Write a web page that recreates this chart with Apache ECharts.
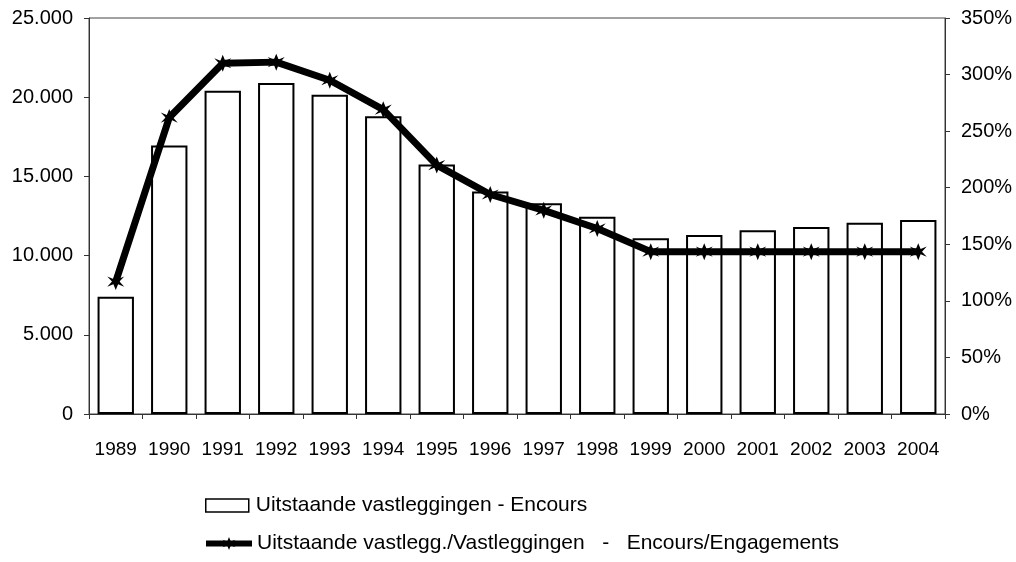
<!DOCTYPE html>
<html>
<head>
<meta charset="utf-8">
<script src="https://cdn.jsdelivr.net/npm/echarts@6/dist/echarts.min.js"></script>
<style>
  html, body { margin: 0; padding: 0; background: #fff; }
  #chart { width: 1016px; height: 562px; }
</style>
</head>
<body>
<div id="chart"></div>
<script>
const years = ['1989', '1990', '1991', '1992', '1993', '1994', '1995', '1996',
  '1997', '1998', '1999', '2000', '2001', '2002', '2003', '2004']
// Uitstaande vastleggingen - Encours
const encours = [7400, 16950, 20400, 20900, 20150, 18800, 15750, 14050,
  13300, 12450, 11100, 11300, 11600, 11800, 12080, 12250]
// Uitstaande vastlegg./Vastleggingen (%)
const ratio = [117, 262, 310, 311, 295, 269, 220, 194,
  180, 164, 143.5, 143.5, 143.5, 143.5, 143.5, 143.5]
const leftTicks = [0, 5000, 10000, 15000, 20000, 25000]
const rightTicks = [0, 50, 100, 150, 200, 250, 300, 350]

const barName = 'Uitstaande vastleggingen - Encours'
const lineName = 'Uitstaande vastlegg./Vastleggingen   -   Encours/Engagements'

const font = 'Liberation Sans, Arial, sans-serif'
const star = 'path://M0,-10 L2.5,-3 L9,-6 L4,0 L9,6 L2.5,3 L0,10 L-2.5,3 L-9,6 L-4,0 L-9,-6 L-2.5,-3 Z'

const chart = echarts.init(document.getElementById('chart'))
chart.setOption({
  animation: false,
  textStyle: { fontFamily: font, color: '#000' },
  grid: {
    left: 89,
    right: 71,
    top: 18,
    bottom: 148,
    show: true,
    borderColor: '#444',
    borderWidth: 1,
  },
  legend: [
    {
      left: 205,
      top: 495,
      padding: 0,
      data: [{ name: barName, icon: 'rect' }],
      itemWidth: 43,
      itemHeight: 13,
      itemStyle: { color: '#fff', borderColor: '#000', borderWidth: 1.5 },
      textStyle: { fontSize: 21, fontFamily: font, color: '#000', padding: [0, 0, 0, 2] },
    },
    {
      left: 203,
      top: 533,
      padding: 0,
      data: [{ name: lineName }],
      itemWidth: 46,
      itemHeight: 16,
      lineStyle: { color: '#000', width: 6 },
      itemStyle: { color: '#000' },
      textStyle: { fontSize: 21, fontFamily: font, color: '#000', padding: [4, 0, 0, 0] },
    },
  ],
  xAxis: {
    type: 'category',
    data: years,
    axisLine: { lineStyle: { color: '#333', width: 1 } },
    axisTick: { show: true, length: 5, lineStyle: { color: '#333' } },
    axisLabel: { interval: 0, fontSize: 19, color: '#000', margin: 26, fontFamily: font },
  },
  yAxis: [
    {
      type: 'value',
      min: 0,
      max: 25000,
      interval: 5000,
      splitLine: { show: false },
      axisLine: { show: true, lineStyle: { color: '#333' } },
      axisTick: { show: true, length: 5, lineStyle: { color: '#333' } },
      axisLabel: {
        fontSize: 20,
        color: '#000',
        margin: 16,
        fontFamily: font,
        formatter: v => (leftTicks.includes(v) ? v.toLocaleString('de-DE') : ''),
      },
    },
    {
      type: 'value',
      min: 0,
      max: 350,
      interval: 50,
      position: 'right',
      splitLine: { show: false },
      axisLine: { show: true, lineStyle: { color: '#333' } },
      axisTick: { show: true, length: 5, lineStyle: { color: '#333' } },
      axisLabel: {
        fontSize: 20,
        color: '#000',
        margin: 16,
        fontFamily: font,
        formatter: v => (rightTicks.includes(v) ? v + '%' : ''),
      },
    },
  ],
  series: [
    {
      name: barName,
      type: 'bar',
      data: encours,
      yAxisIndex: 0,
      barCategoryGap: '32%',
      itemStyle: { color: '#fff', borderColor: '#000', borderWidth: 2 },
    },
    {
      name: lineName,
      type: 'line',
      data: ratio,
      yAxisIndex: 1,
      symbol: star,
      symbolSize: 17,
      lineStyle: { color: '#000', width: 7 },
      itemStyle: { color: '#000' },
      z: 5,
    },
  ],
})
</script>
</body>
</html>
